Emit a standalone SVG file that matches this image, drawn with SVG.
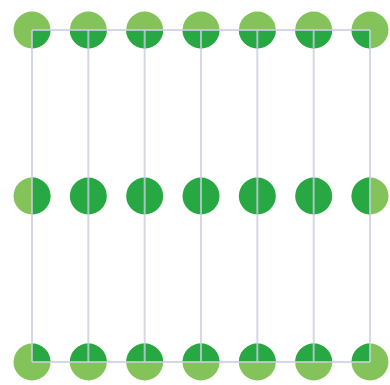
<svg xmlns="http://www.w3.org/2000/svg" xmlns:xlink="http://www.w3.org/1999/xlink" width="390" height="385" viewBox="0 0 390 385">
<style>
.base{fill:#84c35a}
.dark{fill:#27a843}
.ln{stroke:#c9cde0;stroke-width:2;fill:none;stroke-opacity:0.8}
</style>
<defs>
<circle id="c" r="18.5"/>
<path id="q" d="M0 0H18.5A18.5 18.5 0 0 1 0 18.5Z"/>
<path id="h" d="M-18.5 0A18.5 18.5 0 0 0 18.5 0Z"/>
</defs>
<rect width="390" height="385" fill="#ffffff"/>
<g id="top-row">
<g id="n-t1" transform="translate(32,30)"><use href="#c" class="base"/><use href="#q" class="dark"/></g>
<g id="n-t2" transform="translate(88.33,30)"><use href="#c" class="base"/><use href="#h" class="dark"/></g>
<g id="n-t3" transform="translate(144.67,30)"><use href="#c" class="base"/><use href="#h" class="dark"/></g>
<g id="n-t4" transform="translate(201,30)"><use href="#c" class="base"/><use href="#h" class="dark"/></g>
<g id="n-t5" transform="translate(257.33,30)"><use href="#c" class="base"/><use href="#h" class="dark"/></g>
<g id="n-t6" transform="translate(313.67,30)"><use href="#c" class="base"/><use href="#h" class="dark"/></g>
<g id="n-t7" transform="translate(370,30)"><use href="#c" class="base"/><use href="#q" class="dark" transform="rotate(90)"/></g>
</g>
<g id="mid-row">
<g id="n-m1" transform="translate(32,196)"><use href="#c" class="base"/><use href="#h" class="dark" transform="rotate(-90)"/></g>
<g id="n-m2" transform="translate(88.33,196)"><use href="#c" class="dark"/></g>
<g id="n-m3" transform="translate(144.67,196)"><use href="#c" class="dark"/></g>
<g id="n-m4" transform="translate(201,196)"><use href="#c" class="dark"/></g>
<g id="n-m5" transform="translate(257.33,196)"><use href="#c" class="dark"/></g>
<g id="n-m6" transform="translate(313.67,196)"><use href="#c" class="dark"/></g>
<g id="n-m7" transform="translate(370,196)"><use href="#c" class="base"/><use href="#h" class="dark" transform="rotate(90)"/></g>
</g>
<g id="bottom-row">
<g id="n-b1" transform="translate(32,362)"><use href="#c" class="base"/><use href="#q" class="dark" transform="rotate(270)"/></g>
<g id="n-b2" transform="translate(88.33,362)"><use href="#c" class="base"/><use href="#h" class="dark" transform="rotate(180)"/></g>
<g id="n-b3" transform="translate(144.67,362)"><use href="#c" class="base"/><use href="#h" class="dark" transform="rotate(180)"/></g>
<g id="n-b4" transform="translate(201,362)"><use href="#c" class="base"/><use href="#h" class="dark" transform="rotate(180)"/></g>
<g id="n-b5" transform="translate(257.33,362)"><use href="#c" class="base"/><use href="#h" class="dark" transform="rotate(180)"/></g>
<g id="n-b6" transform="translate(313.67,362)"><use href="#c" class="base"/><use href="#h" class="dark" transform="rotate(180)"/></g>
<g id="n-b7" transform="translate(370,362)"><use href="#c" class="base"/><use href="#q" class="dark" transform="rotate(180)"/></g>
</g>
<g id="connectors" class="ln">
<path d="M32 30H370M32 362H370"/>
<path d="M32 30V362M88.33 30V362M144.67 30V362M201 30V362M257.33 30V362M313.67 30V362M370 30V362"/>
</g>
</svg>
